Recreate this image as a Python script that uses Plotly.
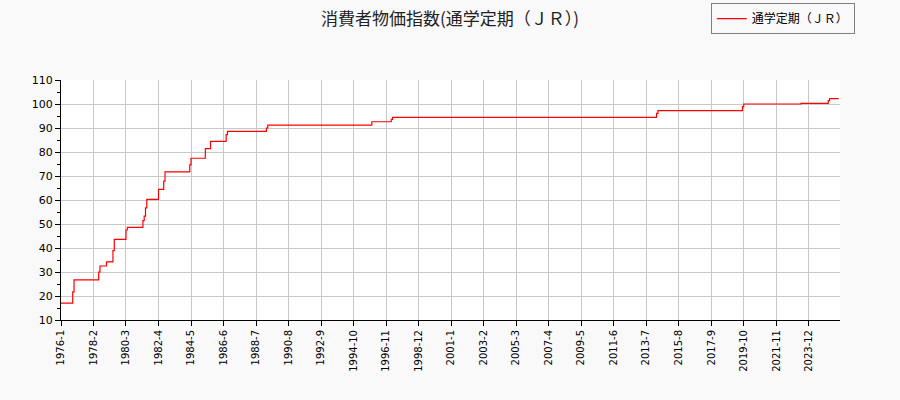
import plotly.graph_objects as go

# change points of the index (month, value); drawn as a step line
months = [
    "1976-01", "1976-10", "1976-11", "1978-06", "1978-07", "1978-12",
    "1979-05", "1979-06", "1980-03", "1980-04", "1981-04", "1981-05",
    "1981-06", "1981-07", "1982-04", "1982-08", "1982-09", "1984-04",
    "1984-05", "1985-04", "1985-08", "1986-08", "1986-09", "1989-03",
    "1989-04", "1995-12", "1997-03", "1997-04", "2014-03", "2014-04",
    "2019-09", "2019-10", "2023-06", "2025-03", "2025-04", "2025-11",
]
values = [
    17.0, 21.7, 26.7, 30.0, 32.5, 34.2,
    38.9, 43.6, 47.5, 48.6, 51.4, 53.3,
    56.7, 60.3, 64.4, 67.9, 71.7, 74.6,
    77.4, 81.4, 84.4, 87.2, 88.6, 90.0,
    91.2, 92.6, 93.6, 94.4, 96.1, 97.2,
    98.9, 100.0, 100.3, 101.4, 102.2, 102.2,
]

tick_dates = [f"{1976 + (k * 25) // 12}-{(k * 25) % 12 + 1:02d}-01" for k in range(24)]
tick_labels = [f"{1976 + (k * 25) // 12}-{(k * 25) % 12 + 1}" for k in range(24)]

font = "DejaVu Sans, Noto Sans CJK JP, sans-serif"
cjk = "Noto Sans CJK JP, sans-serif"

fig = go.Figure(
    go.Scatter(
        x=[m + "-01" for m in months],
        y=values,
        mode="lines",
        line=dict(color="red", width=1.2, shape="hv"),
        name="通学定期（ＪＲ）",
    )
)

fig.update_layout(
    width=900,
    height=400,
    margin=dict(l=61, r=60, t=80, b=80, autoexpand=False),
    paper_bgcolor="#f9f9f9",
    plot_bgcolor="white",
    font=dict(family=font, size=11, color="black"),
    title=dict(
        text="消費者物価指数(通学定期（ＪＲ）)",
        x=0.5,
        xanchor="center",
        y=0.953,
        yanchor="middle",
        font=dict(family=cjk, size=17, color="#222222"),
    ),
    showlegend=True,
    legend=dict(
        x=1.019,
        xanchor="right",
        y=1.32,
        yanchor="top",
        bgcolor="#f9f9f9",
        bordercolor="#808080",
        borderwidth=1,
        font=dict(family=cjk, size=12),
        tracegroupgap=0,
    ),
)

fig.update_xaxes(
    type="date",
    range=["1976-01-01", "2025-12-01"],
    tickvals=tick_dates,
    ticktext=tick_labels,
    tickangle=-90,
    ticks="outside",
    ticklen=5,
    tickcolor="black",
    tickfont=dict(size=10),
    showline=True,
    linecolor="black",
    showgrid=True,
    gridcolor="#c8c8c8",
    zeroline=False,
)

fig.update_yaxes(
    range=[10, 110],
    tickvals=list(range(10, 111, 10)),
    ticks="outside",
    ticklen=5,
    tickcolor="black",
    minor=dict(dtick=5, tick0=5, ticks="outside", ticklen=3, tickcolor="black", showgrid=False),
    showline=True,
    linecolor="black",
    showgrid=True,
    gridcolor="#c8c8c8",
    zeroline=False,
)

fig.write_html(
    "out.html",
    config={"displayModeBar": False},
    post_script="document.body.style.margin='0';",
)
